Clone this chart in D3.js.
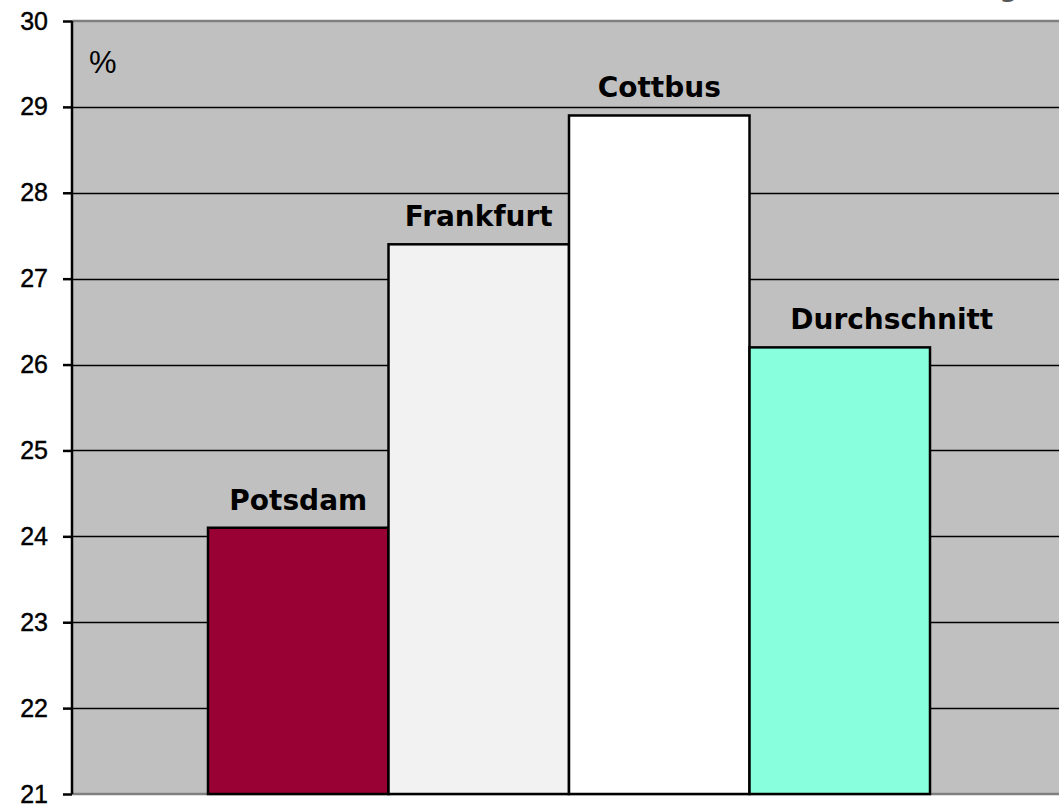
<!DOCTYPE html>
<html>
<head>
<meta charset="utf-8">
<script src="https://cdn.jsdelivr.net/npm/d3@7"></script>
<style>
  body { margin: 0; background: #fff; }
  svg { display: block; }
</style>
</head>
<body>
<div class="js-chart"></div>
<script>
// Chart data:
const cities = ["Potsdam", "Frankfurt", "Cottbus", "Durchschnitt"];
const values = [24.1, 27.4, 28.9, 26.2];
const barColors = ["#990033", "#f2f2f2", "#ffffff", "#88ffdd"];
const yTicks = [21, 22, 23, 24, 25, 26, 27, 28, 29, 30];
const unitLabel = "%";

(function () {
  "use strict";

  var width = 1059;
  var height = 807;
  // plot area; the right edge runs a little off the page like the original
  var plot = { left: 72, right: 1066, top: 21, bottom: 794 };

  var svg = d3.select(".js-chart")
    .append("svg")
    .attr("width", width)
    .attr("height", height);

  var y = d3.scaleLinear()
    .domain([21, 30])
    .range([plot.bottom, plot.top]);

  var x = d3.scaleBand()
    .domain(cities)
    .range([208, 930])
    .padding(0);

  // grey plot background
  svg.append("rect")
    .attr("x", plot.left)
    .attr("y", plot.top)
    .attr("width", plot.right - plot.left)
    .attr("height", plot.bottom - plot.top)
    .attr("fill", "#c0c0c0");

  // cut-off title descender at the very top
  svg.append("text")
    .attr("x", 1018)
    .attr("y", -4)
    .attr("text-anchor", "end")
    .attr("font-family", "DejaVu Sans, Verdana, sans-serif")
    .attr("font-weight", "bold")
    .attr("font-size", 26)
    .attr("fill", "#555")
    .text("g");

  // horizontal grid lines
  svg.append("g")
    .selectAll("line")
    .data(yTicks.filter(function (d) { return d > 21 && d < 30; }))
    .enter()
      .append("line")
      .attr("x1", plot.left)
      .attr("x2", plot.right)
      .attr("y1", function (d) { return Math.round(y(d)) + 0.5; })
      .attr("y2", function (d) { return Math.round(y(d)) + 0.5; })
      .attr("stroke", "#000")
      .attr("stroke-width", 1.5);

  // top and bottom edges of the plot are grey
  [plot.top, plot.bottom].forEach(function (py) {
    svg.append("line")
      .attr("x1", plot.left)
      .attr("x2", plot.right)
      .attr("y1", py)
      .attr("y2", py)
      .attr("stroke", "#808080")
      .attr("stroke-width", 2.5);
  });

  // bars
  svg.append("g")
    .selectAll("rect")
    .data(values)
    .enter()
      .append("rect")
      .attr("x", function (d, i) { return x(cities[i]); })
      .attr("y", function (d) { return y(d); })
      .attr("width", x.bandwidth())
      .attr("height", function (d) { return plot.bottom - y(d); })
      .attr("fill", function (d, i) { return barColors[i]; })
      .attr("stroke", "#000")
      .attr("stroke-width", 2.5);

  // bar labels; the last one sits a bit to the right in the original
  svg.append("g")
    .selectAll("text")
    .data(values)
    .enter()
      .append("text")
      .attr("x", function (d, i) {
        var cx = x(cities[i]) + x.bandwidth() / 2;
        return i === cities.length - 1 ? cx + 52 : cx;
      })
      .attr("y", function (d) { return y(d) - 18; })
      .attr("text-anchor", "middle")
      .attr("font-family", "DejaVu Sans, Verdana, sans-serif")
      .attr("font-weight", "bold")
      .attr("font-size", 28)
      .attr("fill", "#000")
      .text(function (d, i) { return cities[i]; });

  // y axis
  var yAxis = d3.axisLeft(y)
    .tickValues(yTicks)
    .tickSize(9)
    .tickPadding(15);

  var axisG = svg.append("g")
    .attr("transform", "translate(" + plot.left + ",0)")
    .call(yAxis);

  axisG.select(".domain")
    .attr("d", "M0," + plot.top + "V" + plot.bottom)
    .attr("stroke", "#000")
    .attr("stroke-width", 2.5);
  axisG.selectAll(".tick line")
    .attr("stroke", "#000")
    .attr("stroke-width", 2.5);
  axisG.selectAll(".tick text")
    .attr("font-family", "Liberation Sans, Arial, sans-serif")
    .attr("font-size", 25)
    .attr("fill", "#000")
    .attr("stroke", "#000")
    .attr("stroke-width", 0.4);

  // unit label inside the plot
  svg.append("text")
    .attr("x", 89)
    .attr("y", 73)
    .attr("font-family", "Liberation Sans, Arial, sans-serif")
    .attr("font-size", 31)
    .attr("fill", "#000")
    .text(unitLabel);
})();
</script>
</body>
</html>
